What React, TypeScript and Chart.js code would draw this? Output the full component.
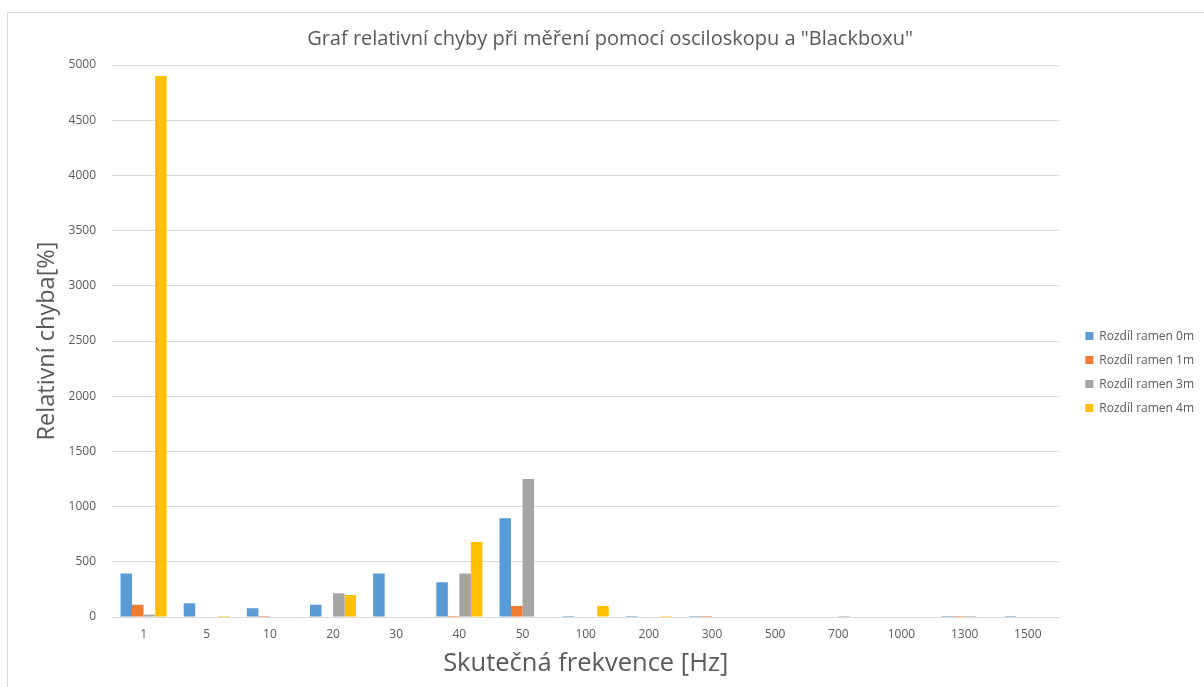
import React, { useEffect, useRef } from "react";
import { Chart, registerables } from "chart.js";

Chart.register(...registerables);

const categories = ["1", "5", "10", "20", "30", "40", "50", "100", "200", "300", "500", "700", "1000", "1300", "1500"];
const seriesNames = ["Rozdíl ramen 0m", "Rozdíl ramen 1m", "Rozdíl ramen 3m", "Rozdíl ramen 4m"];
const values0m = [395, 125, 80, 110, 395, 315, 895, 10, 10, 10, 0, 0, 0, 10, 10];
const values1m = [110, 0, 10, 0, 0, 10, 100, 0, 0, 10, 0, 0, 0, 10, 0];
const values3m = [20, 0, 0, 215, 0, 395, 1250, 0, 0, 0, 0, 10, 0, 10, 0];
const values4m = [4900, 10, 0, 200, 0, 680, 0, 100, 10, 0, 0, 0, 0, 0, 0];
const colors = ["#5b9bd5", "#ed7d31", "#a5a5a5", "#ffc000"];

const titleText = 'Graf relativní chyby při měření pomocí osciloskopu a "Blackboxu"';
const xTitle = "Skutečná frekvence [Hz]";
const yTitle = "Relativní chyba[%]";

const FONT = "'Open Sans', sans-serif";
const TEXT = "#595959";

export default function App() {
  const ref = useRef<HTMLCanvasElement | null>(null);
  useEffect(() => {
    if (!ref.current) return;
    const all = [values0m, values1m, values3m, values4m];
    const chart = new Chart(ref.current, {
      type: "bar",
      data: {
        labels: categories,
        datasets: all.map((v, i) => ({
          label: seriesNames[i],
          data: v,
          backgroundColor: colors[i],
          borderWidth: 0,
          categoryPercentage: 0.73,
          barPercentage: 1,
          yAxisID: "y",
        })),
      },
      options: {
        responsive: false,
        animation: false,
        layout: { padding: { left: 16, right: 0, top: 8, bottom: 6 } },
        plugins: {
          title: {
            display: true,
            text: titleText,
            color: TEXT,
            font: { family: FONT, size: 20, weight: "normal" },
            padding: { top: 19, bottom: 14 },
          },
          legend: {
            position: "right",
            align: "center",
            title: { display: true, text: " ", padding: { top: 21, bottom: 21 }, font: { size: 11 } },
            labels: {
              boxWidth: 8,
              boxHeight: 8,
              padding: 12,
              color: TEXT,
              font: { family: FONT, size: 12 },
            },
          },
          tooltip: { enabled: false },
        },
        scales: {
          x: {
            grid: { display: false, drawTicks: false },
            border: { display: true, color: "#d9d9d9" },
            ticks: { color: TEXT, font: { family: FONT, size: 12 }, padding: 10, maxRotation: 0 },
            title: {
              display: true,
              text: xTitle,
              color: TEXT,
              font: { family: FONT, size: 25.5 },
              padding: { top: -3, bottom: 2 },
            },
          },
          y: {
            min: 0,
            max: 5000,
            afterFit: (s: any) => {
              s.width = 96;
            },
            ticks: {
              stepSize: 500,
              color: TEXT,
              font: { family: FONT, size: 12 },
              padding: 16,
              callback: (v: any) => String(v),
            },
            grid: { color: "#d9d9d9", drawTicks: false },
            border: { display: false },
            title: {
              display: true,
              text: yTitle,
              color: TEXT,
              font: { family: FONT, size: 23.5 },
              padding: { top: 17, bottom: 0 },
            },
          },
          gap: {
            type: "linear",
            position: "right",
            display: true,
            afterFit: (s: any) => {
              s.width = 14;
            },
            ticks: { display: false },
            grid: { display: false, drawTicks: false },
            border: { display: false },
          },
        },
      },
    });
    return () => chart.destroy();
  }, []);
  return (
    <div style={{ position: "fixed", left: 0, top: 0, width: 1204, height: 687, background: "#fff", overflow: "hidden" }}>
      <div style={{ position: "absolute", left: 7, top: 12, width: 1300, height: 1000, border: "1px solid #d9d9d9" }} />
      <canvas ref={ref} width={1204} height={687} style={{ position: "absolute", left: 0, top: 0 }} />
    </div>
  );
}
